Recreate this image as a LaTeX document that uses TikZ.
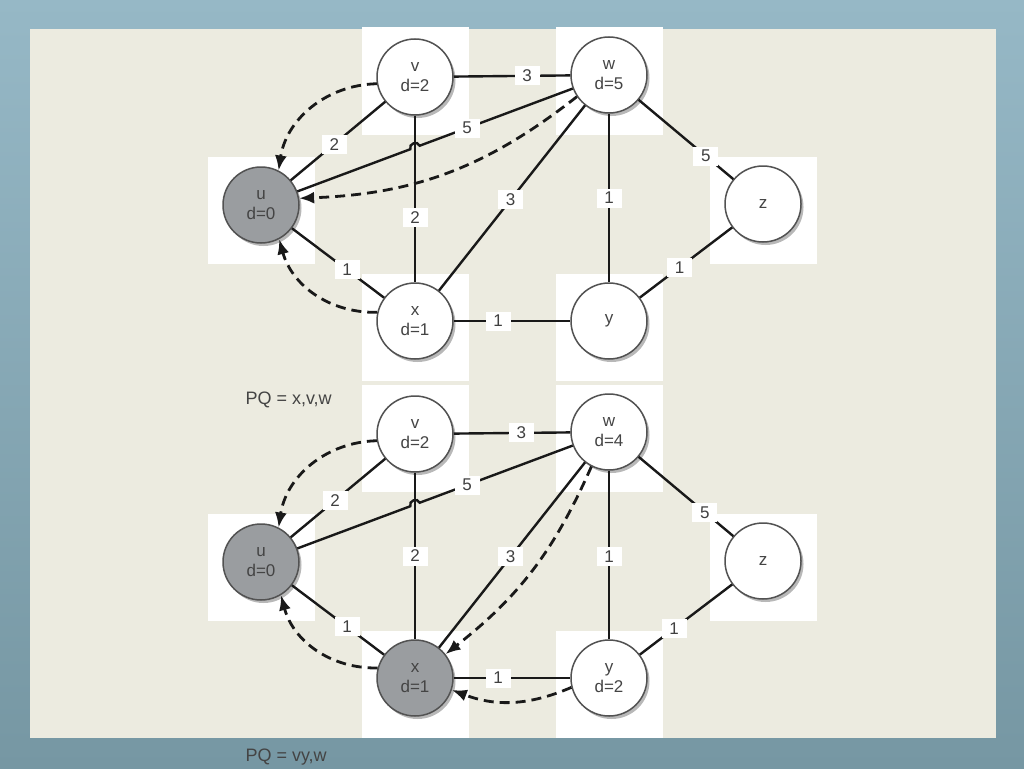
\documentclass[tikz,border=0pt]{standalone}
\usepackage{fontspec}
\setmainfont{Liberation Sans}
\usetikzlibrary{shadows,arrows.meta,calc}
\definecolor{bgblue}{HTML}{96B8C6}
\definecolor{bgbluedark}{HTML}{7697A3}
\definecolor{panel}{HTML}{ECEBE0}
\definecolor{nodegray}{HTML}{9A9DA0}
\definecolor{txtgray}{HTML}{444444}
\begin{document}
\begin{tikzpicture}[x=1pt,y=-1pt,
  vert/.style={circle, draw=black!68, line width=1.5pt, fill=white, minimum size=76pt, inner sep=0pt, align=center, font=\fontsize{17}{20}\selectfont, text=txtgray, drop shadow={shadow xshift=2.5pt, shadow yshift=-3pt, opacity=0.28, fill=black}},
  done/.style={vert, fill=nodegray},
  sq/.style={fill=white, draw=none, minimum size=107pt, inner sep=0pt},
  edge/.style={line width=2.4pt, draw=black!90},
  lbl/.style={fill=white, inner sep=0pt, minimum width=25pt, minimum height=19pt, font=\fontsize{17}{17}\selectfont, text=black!75},
  pred/.style={line width=2.8pt, draw=black!90, dash pattern=on 10pt off 6pt, -{Latex[length=15pt,width=12pt]}},
  pqtext/.style={anchor=west, font=\fontsize{18}{18}\selectfont, text=txtgray}
]
\useasboundingbox (0,0) rectangle (1024,768);
\shade[top color=bgblue, bottom color=bgbluedark] (0,0) rectangle (1024,768);
\fill[panel] (30,29) rectangle (996,738);

% ---------- top graph ----------
\foreach \n/\x/\y in {v/415/81, w/609/81, u/261/210, x/415/327, y/609/327, z/763/210}
  \node[sq] (sq\n1) at (\x,\y) {};
\node[done] (u1) at (261,205) {u\\d=0};
\node[vert] (v1) at (415,77) {v\\d=2};
\node[vert] (w1) at (609,75) {w\\d=5};
\node[vert] (x1) at (415,321) {x\\d=1};
\node[vert] (y1) at (609,321) {y};
\node[vert] (z1) at (763,204) {z};

\coordinate (h1) at ($(w1)!0.5575!(u1)$);
\coordinate (h1r) at ($(h1)!5pt!(w1)$);
\coordinate (h1l) at ($(h1)!5pt!(u1)$);

\draw[edge] (v1) -- node[lbl,pos=0.63]{3} (w1);
\draw[edge] (v1) -- node[lbl,pos=0.54]{2} (u1);
\draw[edge] (v1) -- node[lbl,pos=0.61]{2} (x1);
\draw[edge] (w1) -- node[lbl,pos=0.69]{5} (h1r) to[bend right=90,looseness=1.5] (h1l) -- (u1);
\draw[edge] (w1) -- node[lbl,pos=0.51]{3} (x1);
\draw[edge] (w1) -- node[lbl,pos=0.5]{1} (y1);
\draw[edge] (w1) -- node[lbl,pos=0.71]{5} (z1);
\draw[edge] (z1) -- node[lbl,pos=0.57]{1} (y1);
\draw[edge] (u1) -- node[lbl,pos=0.6]{1} (x1);
\draw[edge] (x1) -- node[lbl,pos=0.38]{1} (y1);

\draw[pred] (v1.190) to[bend right=40] (u1.63);
\draw[pred] (w1.214) to[bend left=18] (u1.10);
\draw[pred] (x1.167) to[bend left=38] (u1.298);

\node[pqtext] (pq1) at (242,400) {PQ = x,v,w};

% ---------- bottom graph ----------
\foreach \n/\x/\y in {v/415/438, w/609/438, u/261/567, x/415/684, y/609/684, z/763/567}
  \node[sq] (sq\n2) at (\x,\y) {};
\node[done] (u2) at (261,562) {u\\d=0};
\node[vert] (v2) at (415,434) {v\\d=2};
\node[vert] (w2) at (609,432) {w\\d=4};
\node[done] (x2) at (415,678) {x\\d=1};
\node[vert] (y2) at (609,678) {y\\d=2};
\node[vert] (z2) at (763,561) {z};

\coordinate (h2) at ($(w2)!0.5575!(u2)$);
\coordinate (h2r) at ($(h2)!5pt!(w2)$);
\coordinate (h2l) at ($(h2)!5pt!(u2)$);

\draw[edge] (v2) -- node[lbl,pos=0.58]{3} (w2);
\draw[edge] (v2) -- node[lbl,pos=0.53]{2} (u2);
\draw[edge] (v2) -- node[lbl,pos=0.5]{2} (x2);
\draw[edge] (w2) -- node[lbl,pos=0.69]{5} (h2r) to[bend right=90,looseness=1.5] (h2l) -- (u2);
\draw[edge] (w2) -- node[lbl,pos=0.51]{3} (x2);
\draw[edge] (w2) -- node[lbl,pos=0.51]{1} (y2);
\draw[edge] (w2) -- node[lbl,pos=0.7]{5} (z2);
\draw[edge] (z2) -- node[lbl,pos=0.63]{1} (y2);
\draw[edge] (u2) -- node[lbl,pos=0.6]{1} (x2);
\draw[edge] (x2) -- node[lbl,pos=0.38]{1} (y2);

\draw[pred] (v2.190) to[bend right=40] (u2.63);
\draw[pred] (x2.165) to[bend left=38] (u2.301);
\draw[pred] (w2.243) to[bend left=14] (x2.38);
\draw[pred] (y2.194) to[bend left=22] (x2.-18);

\node[pqtext] (pq2) at (242,757) {PQ = vy,w};
\end{tikzpicture}
\end{document}
